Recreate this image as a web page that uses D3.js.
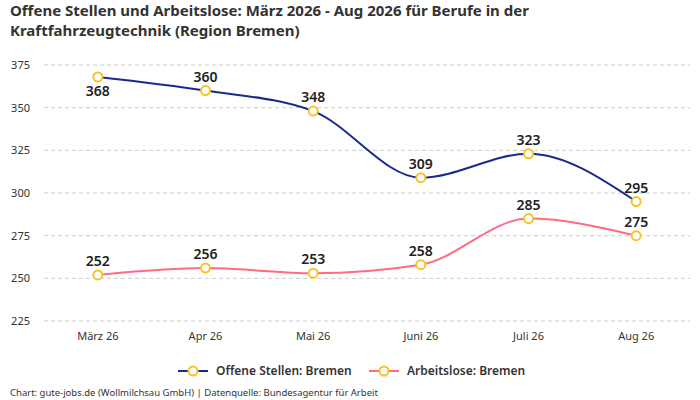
<!DOCTYPE html><html><head><meta charset="utf-8">
<script src="https://cdn.jsdelivr.net/npm/d3@7"></script>
<style>body{margin:0;background:#fff}text{font-family:"Noto Sans",Roboto,sans-serif}</style></head><body>
<svg id="c" width="700" height="400"></svg>
<script>
const months=["März 26","Apr 26","Mai 26","Juni 26","Juli 26","Aug 26"];
const offene=[368,360,348,309,323,295];
const arbeitslose=[252,256,253,258,285,275];
const yTicks=[225,250,275,300,325,350,375];
const svg=d3.select("#c");
const x=d3.scalePoint().domain(months).range([44,690]).padding(0.5);
const y=d3.scaleLinear().domain([225,375]).range([321,65]);
svg.append("text").attr("x",10).attr("y",16).attr("font-size",15).attr("font-weight",700).attr("fill","#333").text("Offene Stellen und Arbeitslose: März 2026 - Aug 2026 für Berufe in der");
svg.append("text").attr("x",10).attr("y",36).attr("font-size",15).attr("font-weight",700).attr("fill","#333").text("Kraftfahrzeugtechnik (Region Bremen)");
const g=svg.append("g");
yTicks.forEach(t=>{
 g.append("line").attr("x1",44).attr("x2",690).attr("y1",y(t)).attr("y2",y(t)).attr("stroke","#ccc").attr("stroke-dasharray","4,3");
 g.append("text").attr("x",30).attr("y",y(t)+4).attr("text-anchor","end").attr("font-size",11).attr("fill","#333").text(t);
});
months.forEach(m=>g.append("text").attr("x",x(m)).attr("y",340).attr("text-anchor","middle").attr("font-size",11).attr("fill","#333").text(m));
const line=d3.line().x((d,i)=>x(months[i])).y(d=>y(d)).curve(d3.curveMonotoneX);
function series(data,color,above){
 g.append("path").attr("d",line(data)).attr("fill","none").attr("stroke",color).attr("stroke-width",2);
 data.forEach((d,i)=>{
  g.append("circle").attr("cx",x(months[i])).attr("cy",y(d)).attr("r",4.5).attr("fill","#fff").attr("stroke","#f7c325").attr("stroke-width",2);
  const up=above[i];
  g.append("text").attr("x",x(months[i])).attr("y",up?y(d)-9:y(d)+19).attr("text-anchor","middle").attr("font-size",14).attr("font-weight",600).attr("fill","#222").text(d);
 });
}
series(offene,"#1a2a8c",[false,true,true,true,true,true]);
series(arbeitslose,"#ff6b84",[true,true,true,true,true,true]);
function leg(x0,color,label){
 svg.append("line").attr("x1",x0).attr("x2",x0+30).attr("y1",371).attr("y2",371).attr("stroke",color).attr("stroke-width",2);
 svg.append("circle").attr("cx",x0+15).attr("cy",371).attr("r",4.5).attr("fill","#fff").attr("stroke","#f7c325").attr("stroke-width",2);
 svg.append("text").attr("x",x0+38).attr("y",375).attr("font-size",12).attr("font-weight",600).attr("fill","#333").text(label);
}
leg(178,"#1a2a8c","Offene Stellen: Bremen");
leg(369,"#ff6b84","Arbeitslose: Bremen");
svg.append("text").attr("x",10).attr("y",396).attr("font-size",9.5).attr("fill","#333").text("Chart: gute-jobs.de (Wollmilchsau GmbH) | Datenquelle: Bundesagentur für Arbeit");
</script></body></html>
